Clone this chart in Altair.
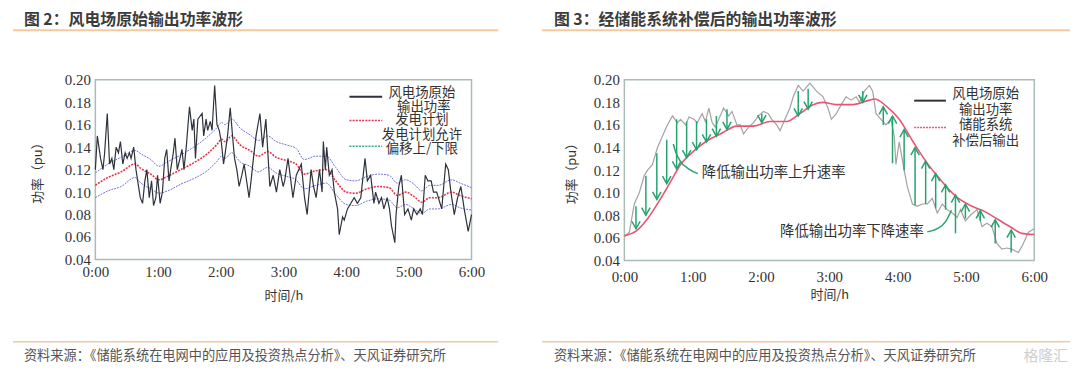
import altair as alt
import pandas as pd

# ---------------- Left panel: raw wind farm output (minutes, pu) ----------------
RAW_T = [0, 1.9, 5, 7.3, 8.9, 11.4, 13.6, 15.8, 17.7, 19.9,
         22.1, 24, 26.3, 28.5, 30.4, 32.6, 34.2, 36.7, 38.9, 40.5,
         43, 45.2, 47.4, 49.3, 51.6, 53.8, 55.7, 57.9, 59.5, 62,
         64.2, 66.4, 68.3, 70.5, 72.1, 74.6, 76.2, 78.4, 81, 82.9,
         84.8, 87, 90.1, 92.7, 94.3, 95.8, 98.1, 102.2, 103.7, 106,
         107.5, 110, 111.7, 114.2, 116.4, 118.6, 120.5, 122.7, 124.3, 126.5,
         129.1, 131.3, 133.2, 135.4, 137.6, 140.2, 142.4, 147.1, 149, 151.3,
         153.8, 157.5, 160.1, 163.2, 167, 170.2, 173.3, 176.5, 179.7, 181.2,
         184.4, 189.1, 192.3, 197.1, 200.2, 202.7, 206.5, 208.8, 211.3, 214.5,
         217, 218.2, 220.1, 221.4, 223.9, 226.5, 228.7, 231.8, 233.4, 236.6,
         238.2, 241.3, 244.5, 247.7, 250.8, 254, 258.1, 260.3, 263.5, 266.6,
         268.2, 271.4, 273.9, 276.1, 279.3, 281.5, 283.4, 286.6, 287.8, 290.4,
         292.9, 296, 299.2, 302.4, 304.6, 307.8, 310.9, 313.1, 315.7, 318.2,
         321.4, 323.6, 326.7, 329.9, 331.5, 335.3, 337.8, 340.3, 343.5, 346.7,
         349.8, 353, 356.8, 360]
RAW_V = [.12, .15, .13, .12, .135, .17, .125, .13, .12, .14,
         .135, .145, .125, .135, .13, .135, .13, .14, .12, .11,
         .095, .09, .11, .12, .095, .11, .088, .095, .115, .09,
         .10, .13, .138, .11, .12, .135, .148, .12, .13, .138,
         .12, .14, .176, .155, .165, .13, .165, .17, .15, .165,
         .155, .163, .155, .195, .16, .155, .145, .125, .135, .15,
         .175, .15, .13, .12, .105, .115, .125, .095, .11, .13,
         .15, .17, .14, .165, .105, .115, .10, .12, .105, .11,
         .13, .095, .115, .125, .095, .08, .12, .105, .095, .12,
         .10, .145, .12, .14, .115, .12, .10, .085, .062, .078,
         .075, .085, .09, .095, .09, .095, .13, .11, .115, .09,
         .10, .09, .095, .085, .095, .085, .07, .055, .08, .105,
         .115, .08, .085, .075, .085, .08, .085, .08, .115, .11,
         .11, .10, .10, .09, .085, .125, .12, .10, .08, .095,
         .105, .085, .065, .08]

# generation plan and allowed upper / lower offsets
PLAN_T = [0, 12, 24.7, 38, 43.6, 53, 61, 69, 81.6, 94,
          107, 116, 121, 124, 130.6, 138.5, 148, 156, 165, 173,
          183, 192, 200, 211, 221, 230, 240, 249, 260, 271,
          281, 289, 297, 305, 312.5, 320, 328, 341, 349, 360]
PLAN_V = [.106, .113, .118, .125, .121, .116, .111, .114, .12, .126,
          .134, .142, .147, .145, .15, .142, .137, .132, .136, .131,
          .128, .125, .116, .119, .12, .11, .1, .099, .103, .105,
          .104, .097, .1, .096, .091, .095, .095, .1, .097, .094]
UPPER_V = [.117, .125, .131, .137, .134, .129, .123, .127, .133, .140,
           .149, .157, .162, .160, .165, .157, .151, .146, .150, .145,
           .142, .139, .129, .132, .132, .122, .111, .110, .114, .116,
           .115, .108, .111, .107, .101, .106, .106, .111, .108, .104]
LOWER_V = [.095, .101, .105, .113, .108, .103, .099, .101, .107, .112,
           .119, .127, .132, .130, .135, .127, .123, .118, .122, .117,
           .114, .111, .103, .106, .108, .098, .089, .088, .092, .094,
           .093, .086, .089, .085, .081, .085, .085, .089, .086, .084]

# ---------------- Right panel ----------------
GRAY_T = [0, 4.4, 8.7, 13.1, 17.4, 20.4, 24.7, 29.1, 33.4, 37.8,
          42.2, 46.5, 49.4, 53.8, 56.7, 61.1, 64, 68.3, 71.2, 74.2,
          77.1, 80, 82.9, 87.2, 91.6, 94.5, 98.9, 101.8, 104.7, 109.1,
          113.4, 117.8, 122.1, 126.5, 129.4, 133.8, 136.7, 141, 145.4, 148.3,
          152.7, 157, 162.9, 168.7, 174.5, 178.8, 181.8, 186.1, 190.5, 194.8,
          199.2, 203.6, 206.5, 210.8, 215.2, 218.1, 221, 225.4, 229.7, 234.1,
          237, 238.5, 241.4, 245.7, 248.6, 253, 257.4, 261.7, 266.1, 270.4,
          274.8, 279.2, 283.5, 287.9, 292.3, 295.2, 299.5, 303.9, 309.7, 314.1,
          318.4, 322.8, 327.2, 331.5, 335.9, 340.2, 346.1, 350.4, 354.8, 360]
GRAY_V = [.061, .065, .09, .10, .115, .12, .125, .14, .15, .16,
          .168, .162, .165, .16, .167, .165, .162, .17, .163, .175,
          .162, .158, .165, .175, .168, .172, .16, .16, .152, .158,
          .162, .168, .172, .17, .165, .16, .155, .165, .175, .185,
          .195, .19, .197, .19, .185, .175, .165, .17, .178, .185,
          .182, .185, .18, .19, .195, .19, .17, .165, .16, .165,
          .15, .125, .145, .12, .105, .09, .088, .09, .09, .095,
          .082, .09, .085, .082, .078, .085, .075, .08, .085, .07,
          .073, .07, .055, .05, .051, .05, .047, .055, .065, .068]

SMOOTH_T = [0, 10.2, 20.4, 32, 40.7, 49.4, 61.1, 72.7, 84.3, 98.9,
            113.4, 128, 142.5, 154.1, 165.8, 174.5, 186.1, 200.7, 215.2, 219.6,
            229.7, 241.4, 253, 264.6, 276.3, 290.8, 305.3, 317, 328.6, 340.2,
            349, 360]
SMOOTH_V = [.062, .066, .077, .095, .11, .125, .137, .146, .152, .159,
            .159, .163, .163, .17, .178, .18, .178, .178, .182, .183,
            .177, .165, .146, .128, .113, .097, .088, .083, .076, .069,
            .064, .063]

ARROW_T = [10.2, 18.9, 28.5, 37.2, 45.9, 54.7, 63.4, 72.1, 80.8, 90.1,
           120.7, 152.7, 161.4, 209.4, 227.4, 235.5, 245.7, 255.3, 264.6, 273.4,
           282.1, 290.8, 299.5, 312.6, 325.7, 339.7]
ARROW_FROM = [.088, .115, .135, .147, .165, .163, .163, .165, .168, .174,
              .170, .190, .192, .190, .160, .126, .120, .089, .090, .086,
              .085, .064, .077, .075, .055, .047]
ARROW_TO = [.068, .080, .094, .108, .121, .131, .138, .145, .150, .156,
            .162, .168, .174, .180, .176, .168, .156, .140, .128, .117,
            .107, .098, .090, .084, .076, .067]

LEAD1_T = [43.0, 45.1, 49.4, 56.7, 64.6]
LEAD1_V = [.1432, .136, .1275, .1209, .1169]
LEAD2_T = [266.1, 274.8, 282.1, 287.3]
LEAD2_V = [.0653, .0681, .0744, .0845]

NOTE_TEXT = ["降低输出功率上升速率", "降低输出功率下降速率"]
NOTE_T = [68, 263]
NOTE_V = [.117, .065]
NOTE_ALIGN = ["left", "right"]

X_TICKS = [0, 60, 120, 180, 240, 300, 360]
Y_TICKS = [0.04, 0.06, 0.08, 0.10, 0.12, 0.14, 0.16, 0.18, 0.20]

assert len(RAW_T) == len(RAW_V)
assert len(GRAY_T) == len(GRAY_V)
assert len(SMOOTH_T) == len(SMOOTH_V)
assert len(ARROW_T) == len(ARROW_FROM) == len(ARROW_TO)

FONT_CJK = "Noto Sans CJK SC"
FONT_NUM = "Liberation Serif"
TXT = "#333333"
GREEN = "#25a36f"
ORANGE = "#f6c89f"

XS = alt.Scale(domain=[0, 360], nice=False, zero=False)
YS = alt.Scale(domain=[0.04, 0.20], nice=False, zero=False)


def x_enc(field, lab_pad, title_pad):
    return alt.X(f"{field}:Q", scale=XS, axis=alt.Axis(
        values=X_TICKS, labelExpr="floor(datum.value/60) + ':00'",
        labelFont=FONT_NUM, labelFontSize=15, labelColor=TXT, labelPadding=lab_pad,
        labelFlush=False, labelOverlap=False, ticks=False, domain=False, grid=False,
        title="时间/h", titleFont=FONT_CJK, titleFontSize=13, titleFontWeight="normal",
        titleColor=TXT, titlePadding=title_pad))


def y_enc(field, title_pad):
    return alt.Y(f"{field}:Q", scale=YS, axis=alt.Axis(
        values=Y_TICKS, format=".2f", labelFont=FONT_NUM, labelFontSize=15,
        labelColor=TXT, labelPadding=5, labelFlush=False, labelOverlap=False,
        ticks=False, domain=False, grid=False,
        title="功率（pu）", titleFont=FONT_CJK, titleFontSize=13,
        titleFontWeight="normal", titleColor=TXT, titlePadding=title_pad))


anno = alt.Chart(pd.DataFrame({"k": [0]}))


def txt(s, x, y, size=13.5, align="center", color=TXT, weight="normal"):
    return anno.mark_text(text=s, align=align, baseline="middle", fontSize=size,
                          font=FONT_CJK, color=color, fontWeight=weight).encode(
        x=alt.value(x), y=alt.value(y))


def hrule(x1, x2, y, color, width, dash=None):
    kw = dict(color=color, strokeWidth=width)
    if dash:
        kw["strokeDash"] = dash
    return anno.mark_rule(**kw).encode(x=alt.value(x1), x2=alt.value(x2), y=alt.value(y))


HEAD_Y = -60
HEAD_RULE_Y = -50
SRC_RULE_Y = 264
SRC_Y = 278

# ---------------- build left panel ----------------
L_W, L_H = 379, 181
raw_df = pd.DataFrame({"t": RAW_T, "v": RAW_V})
plan_df = pd.DataFrame({"t": PLAN_T, "plan": PLAN_V, "upper": UPPER_V, "lower": LOWER_V})
band_df = plan_df.melt(id_vars="t", value_vars=["upper", "lower"], var_name="s", value_name="v")

lx = x_enc("t", 5, 10)
band = alt.Chart(band_df).mark_line(color="#6f6fe3", strokeWidth=1, strokeDash=[2, 1],
                                    interpolate="monotone").encode(
    x=lx, y=y_enc("v", 20), detail="s:N")
plan = alt.Chart(plan_df).mark_line(color="#e8334a", strokeWidth=1.6, strokeDash=[2, 1.2],
                                    interpolate="monotone").encode(x=lx, y=y_enc("plan", 20))
raw = alt.Chart(raw_df).mark_line(color="#2d323b", strokeWidth=1.2).encode(
    x=lx, y=y_enc("v", 20))

left = alt.layer(
    band, plan, raw,
    hrule(256, 289, 17, "#2d323b", 2),
    hrule(256, 289, 41, "#e8334a", 1.6, [2, 1.2]),
    hrule(256, 289, 67, "#3aa58a", 1.4, [2, 1.2]),
    txt("风电场原始", 329, 13), txt("输出功率", 331, 27), txt("发电计划", 329, 41),
    txt("发电计划允许", 329, 56), txt("偏移上/下限", 329, 70),
    txt("图 2：风电场原始输出功率波形", -72, HEAD_Y, size=16, align="left",
        color="#3b3b3b", weight="bold"),
    hrule(-83, 406, HEAD_RULE_Y, ORANGE, 2),
    hrule(-83, 406, SRC_RULE_Y, ORANGE, 1.5),
    txt("资料来源：《储能系统在电网中的应用及投资热点分析》、天风证券研究所", -72, SRC_Y,
        size=13.3, align="left", color="#555555"),
).properties(width=L_W, height=L_H)

# ---------------- build right panel ----------------
R_W, R_H = 413, 182
gray_df = pd.DataFrame({"t": GRAY_T, "v": GRAY_V})
smooth_df = pd.DataFrame({"t": SMOOTH_T, "v": SMOOTH_V})
arrow_df = pd.DataFrame({"t": ARROW_T, "v0": ARROW_FROM, "v1": ARROW_TO})
arrow_df["dir"] = ["down" if a > b else "up" for a, b in zip(ARROW_FROM, ARROW_TO)]
lead_df = pd.DataFrame({"t": LEAD1_T + LEAD2_T, "v": LEAD1_V + LEAD2_V,
                        "g": ["a"] * len(LEAD1_T) + ["b"] * len(LEAD2_T)})
note_df = pd.DataFrame({"t": NOTE_T, "v": NOTE_V, "label": NOTE_TEXT, "al": NOTE_ALIGN})

rx = x_enc("t", 9, 4)
gray = alt.Chart(gray_df).mark_line(color="#a3a3a3", strokeWidth=1.2).encode(x=rx, y=y_enc("v", 15))
smooth = alt.Chart(smooth_df).mark_line(color="#ea5573", strokeWidth=1.6,
                                        interpolate="monotone").encode(x=rx, y=y_enc("v", 15))
shafts = alt.Chart(arrow_df).mark_rule(color=GREEN, strokeWidth=1.5).encode(
    x=rx, y=y_enc("v0", 15), y2="v1:Q")
heads = alt.Chart(arrow_df).mark_point(filled=False, color=GREEN, strokeWidth=1.5, size=72,
                                       opacity=1).encode(
    x=rx, y=y_enc("v1", 15),
    shape=alt.Shape("dir:N", scale=alt.Scale(
        domain=["down", "up"],
        range=["M-1,-1.8L0,0L1,-1.8", "M-1,1.8L0,0L1,1.8"]), legend=None))
leads = alt.Chart(lead_df).mark_line(color=GREEN, strokeWidth=1.5, interpolate="monotone").encode(
    x=rx, y=y_enc("v", 15), detail="g:N")
notes_l = alt.Chart(note_df[note_df["al"] == "left"]).mark_text(
    align="left", baseline="middle", fontSize=14.5, font=FONT_CJK, color=TXT).encode(
    x=rx, y=y_enc("v", 15), text="label:N")
notes_r = alt.Chart(note_df[note_df["al"] == "right"]).mark_text(
    align="right", baseline="middle", fontSize=14.5, font=FONT_CJK, color=TXT).encode(
    x=rx, y=y_enc("v", 15), text="label:N")

right = alt.layer(
    gray, smooth, shafts, heads, leads, notes_l, notes_r,
    hrule(292, 324, 21, "#2d323b", 2),
    hrule(292, 324, 48, "#ea5573", 1.5, [2, 1]),
    txt("风电场原始", 364, 14), txt("输出功率", 364, 30),
    txt("储能系统", 364, 46), txt("补偿后输出", 364, 62),
    txt("图 3：经储能系统补偿后的输出功率波形", -71, HEAD_Y, size=16, align="left",
        color="#3b3b3b", weight="bold"),
    hrule(-83, 449, HEAD_RULE_Y, ORANGE, 2),
    hrule(-83, 449, SRC_RULE_Y, ORANGE, 1.5),
    txt("资料来源：《储能系统在电网中的应用及投资热点分析》、天风证券研究所", -71, SRC_Y,
        size=13.3, align="left", color="#555555"),
    txt("格隆汇", 447, SRC_Y, size=15, align="right", color="#cfcfcf"),
).properties(width=R_W, height=R_H)

chart = alt.hconcat(left, right, spacing=40).properties(
    padding={"left": 3, "right": 0, "top": 2, "bottom": 0},
    background="white",
).configure_view(stroke="#a9bcb5", strokeWidth=1.5)

chart.save("out.html", embed_options={"renderer": "svg", "actions": False})
